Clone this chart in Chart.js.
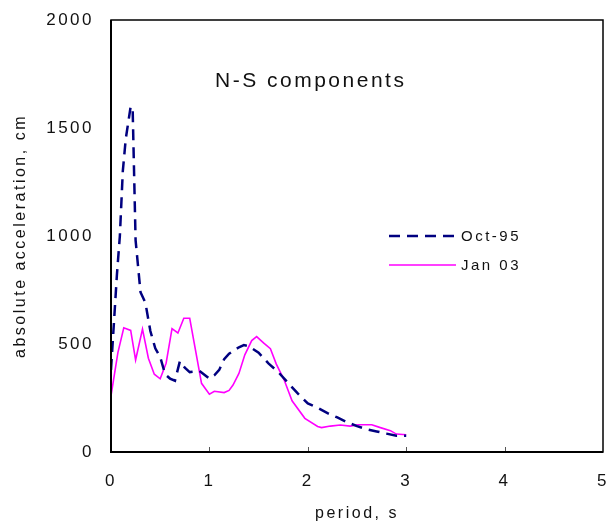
<!DOCTYPE html>
<html>
<head>
<meta charset="utf-8">
<script src="https://cdn.jsdelivr.net/npm/chart.js@4.4.1/dist/chart.umd.min.js"></script>
<style>
  html, body { margin: 0; padding: 0; background: #fff; }
  #wrap { width: 612px; height: 523px; }
</style>
</head>
<body>
<div id="wrap"><canvas id="spectrumCanvas" width="612" height="523"></canvas></div>
<script>
// period (s) and absolute acceleration (cm)
const octPeriod = [0, 0.03, 0.06, 0.09, 0.12, 0.15, 0.2, 0.22, 0.25, 0.3, 0.35, 0.4, 0.45, 0.5, 0.55, 0.6, 0.65, 0.7, 0.75, 0.8, 0.9, 1.0, 1.05, 1.1, 1.15, 1.2, 1.3, 1.35, 1.4, 1.5, 1.6, 1.7, 1.8, 1.9, 2.0, 2.1, 2.2, 2.3, 2.4, 2.5, 2.6, 2.7, 2.8, 2.9, 3.0];
const octAccel  = [380, 600, 820, 1000, 1300, 1450, 1600, 1590, 980, 740, 690, 560, 480, 440, 360, 340, 330, 420, 390, 370, 375, 340, 355, 380, 430, 455, 485, 495, 490, 460, 410, 370, 320, 270, 225, 205, 180, 160, 138, 120, 105, 95, 85, 75, 75];

const janPeriod = [0.0, 0.07, 0.13, 0.2, 0.25, 0.32, 0.38, 0.44, 0.5, 0.56, 0.62, 0.68, 0.74, 0.8, 0.92, 1.0, 1.05, 1.15, 1.2, 1.24, 1.3, 1.36, 1.43, 1.48, 1.55, 1.62, 1.68, 1.76, 1.84, 1.97, 2.1, 2.14, 2.23, 2.33, 2.43, 2.51, 2.65, 2.73, 2.84, 2.9, 3.0];
const janAccel  = [260, 460, 575, 563, 426, 569, 434, 360, 339, 411, 571, 551, 619, 619, 318, 268, 281, 275, 285, 310, 364, 450, 516, 534, 505, 478, 407, 333, 237, 156, 118, 113, 120, 125, 120, 126, 126, 114, 99, 83, 80];

const xTicks = [0, 1, 2, 3, 4, 5];
const yTicks = [0, 500, 1000, 1500, 2000];

const seriesLabels = ['Oct-95', 'Jan 03'];
const chartTitle = 'N-S components';

const toPoints = (xs, ys) => xs.map((x, i) => ({ x: x, y: ys[i] }));

const FONT = "'Liberation Sans', Arial, sans-serif";
const SPACING = '2.5px';

// Excel-like expanded letter spacing; canvas state resets on resize so reapply
const spacingPlugin = {
  id: 'spacing',
  beforeUpdate(chart) { chart.ctx.letterSpacing = SPACING; },
  beforeDraw(chart) { chart.ctx.letterSpacing = SPACING; }
};

// frame, inward x ticks, in-plot title and legend
const decorPlugin = {
  id: 'decor',
  afterDatasetsDraw(chart) {
    const ctx = chart.ctx;
    const a = chart.chartArea;
    const xs = chart.scales.x;
    ctx.save();
    ctx.letterSpacing = SPACING;

    // small ticks pointing up from the x axis
    ctx.strokeStyle = '#555';
    ctx.lineWidth = 1;
    xTicks.slice(1, -1).forEach(v => {
      const px = Math.round(xs.getPixelForValue(v)) + 0.5;
      ctx.beginPath();
      ctx.moveTo(px, a.bottom);
      ctx.lineTo(px, a.bottom - 5);
      ctx.stroke();
    });

    // box round the plot
    ctx.strokeStyle = '#000';
    ctx.lineWidth = 1.5;
    ctx.strokeRect(a.left, a.top, a.right - a.left, a.bottom - a.top);
    ctx.lineWidth = 2;
    ctx.beginPath();
    ctx.moveTo(a.left, a.top);
    ctx.lineTo(a.left, a.bottom);
    ctx.lineTo(a.right, a.bottom);
    ctx.stroke();

    // title
    ctx.fillStyle = '#111';
    ctx.font = '21px ' + FONT;
    ctx.textAlign = 'left';
    ctx.textBaseline = 'alphabetic';
    ctx.fillText(chartTitle, 215, 87);

    // legend
    const rows = [236, 265];
    chart.data.datasets.forEach((ds, i) => {
      const y = rows[i];
      ctx.strokeStyle = ds.borderColor;
      ctx.lineWidth = ds.borderWidth;
      ctx.setLineDash(ds.borderDash || []);
      ctx.beginPath();
      ctx.moveTo(389, y);
      ctx.lineTo(456, y);
      ctx.stroke();
      ctx.setLineDash([]);
      ctx.fillStyle = '#111';
      ctx.font = '15px ' + FONT;
      ctx.textBaseline = 'middle';
      ctx.fillText(ds.label, 461, y + 1);
    });
    ctx.restore();
  }
};

new Chart(document.getElementById('spectrumCanvas'), {
  type: 'scatter',
  data: {
    datasets: [
      {
        label: seriesLabels[0],
        data: toPoints(octPeriod, octAccel),
        showLine: true,
        borderColor: '#000080',
        borderWidth: 2.5,
        borderDash: [11, 7],
        pointRadius: 0,
        tension: 0
      },
      {
        label: seriesLabels[1],
        data: toPoints(janPeriod, janAccel),
        showLine: true,
        borderColor: '#ff00ff',
        borderWidth: 1.6,
        pointRadius: 0,
        tension: 0
      }
    ]
  },
  options: {
    responsive: false,
    animation: false,
    layout: { autoPadding: false, padding: { top: 20, right: 9, left: 0, bottom: 0 } },
    plugins: {
      legend: { display: false },
      tooltip: { enabled: false }
    },
    scales: {
      x: {
        type: 'linear',
        min: 0,
        max: 5,
        afterBuildTicks: s => { s.ticks = xTicks.map(v => ({ value: v })); },
        afterFit: s => { s.height = 71; s.paddingLeft = 0; s.paddingRight = 0; },
        grid: { display: false, drawTicks: false },
        border: { display: false },
        ticks: { color: '#111', padding: 19, font: { family: FONT, size: 17 }, callback: v => String(v) },
        title: {
          display: true,
          text: 'period, s',
          color: '#111',
          padding: 0,
          font: { family: FONT, size: 16 }
        }
      },
      y: {
        min: 0,
        max: 2000,
        afterBuildTicks: s => { s.ticks = yTicks.map(v => ({ value: v })); },
        afterFit: s => { s.width = 111; s.paddingTop = 0; s.paddingBottom = 0; },
        grid: { display: false, drawTicks: false },
        border: { display: false },
        ticks: { color: '#111', padding: 17, font: { family: FONT, size: 17 }, callback: v => String(v) },
        title: {
          display: true,
          text: 'absolute acceleration, cm',
          color: '#111',
          padding: { top: 11, bottom: 0 },
          font: { family: FONT, size: 16 }
        }
      }
    }
  },
  plugins: [spacingPlugin, decorPlugin]
});
</script>
</body>
</html>
